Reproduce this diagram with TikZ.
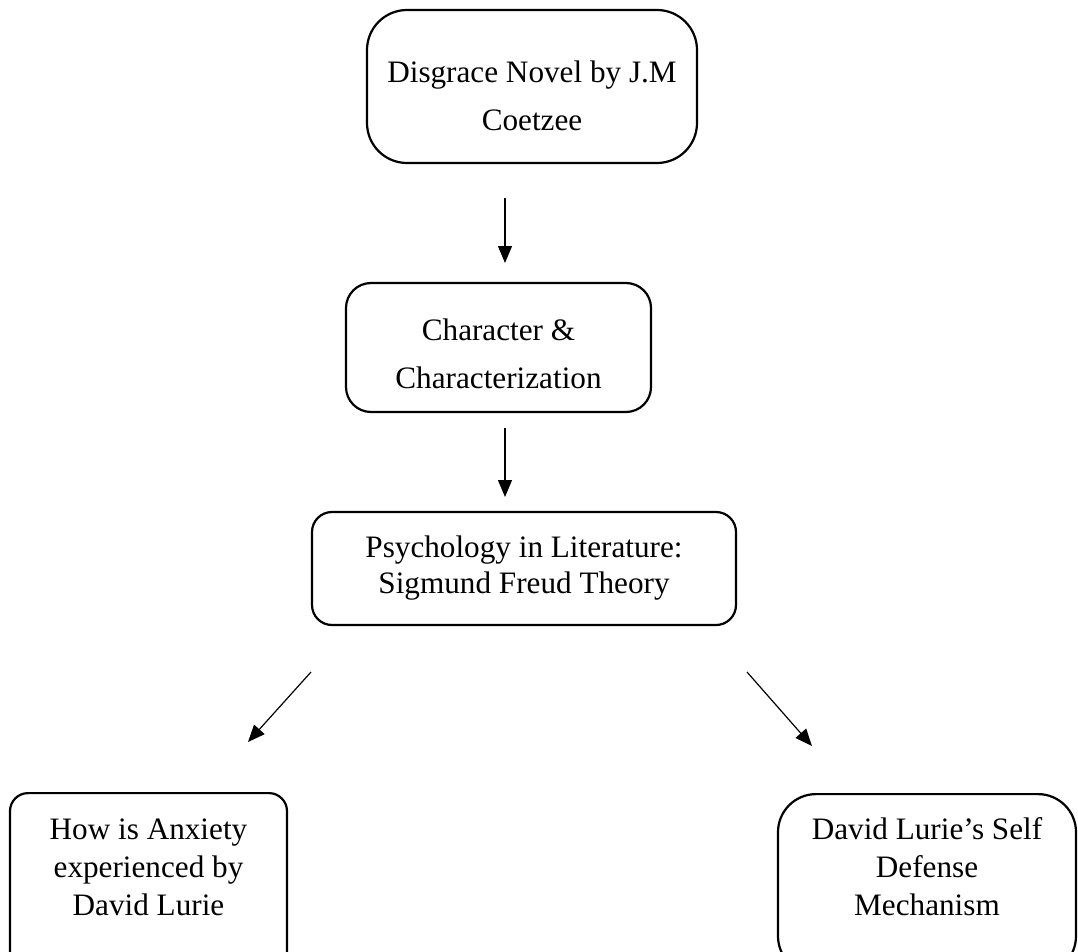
\documentclass[tikz,border=0pt]{standalone}
\usepackage{fontspec}
\setmainfont{Liberation Serif}
\usetikzlibrary{arrows.meta}
\begin{document}
\begin{tikzpicture}[x=1pt,y=-1pt,
  box/.style={draw,line width=2.2pt,align=center,inner sep=0pt,font=\fontsize{31.2}{36}\selectfont},
  conn/.style={line width=1.2pt,-{Triangle[length=17pt,width=14pt]}}]
\useasboundingbox (0,0) rectangle (1078,952);
\clip (0,0) rectangle (1078,952);
\node[box,rounded corners=40pt,minimum width=330pt,minimum height=153pt] (n1) at (532,86.5) {};
\node[font=\fontsize{31.2}{48}\selectfont,align=center] (t1) at (532,96) {Disgrace Novel by J.M\\Coetzee};
\node[box,rounded corners=25pt,minimum width=305pt,minimum height=129pt] (n2) at (498.5,347.5) {};
\node[font=\fontsize{31.2}{48}\selectfont,align=center] (t2) at (498.5,354) {Character \&\\Characterization};
\node[box,rounded corners=20pt,minimum width=424pt,minimum height=113pt] (n3) at (524,568.5) {Psychology in Literature:\\Sigmund Freud Theory};
\node[box,rounded corners=18pt,minimum width=277pt,minimum height=180pt,anchor=north] (n4) at (148.5,792) {};
\node[font=\fontsize{31.2}{38}\selectfont,align=center] (t4) at (148.5,867) {How is Anxiety\\experienced by\\David Lurie};
\node[box,rounded corners=38pt,minimum width=298pt,minimum height=180pt,anchor=north] (n5) at (927,793) {};
\node[font=\fontsize{31.2}{38}\selectfont,align=center] (t5) at (927,867) {David Lurie’s Self\\Defense\\Mechanism};
\coordinate (a1s) at (505,198); \coordinate (a1e) at (505,263);
\coordinate (a2s) at (505,428); \coordinate (a2e) at (505,497);
\coordinate (a3s) at (311,672); \coordinate (a3e) at (248,742);
\coordinate (a4s) at (747,672); \coordinate (a4e) at (812,746);
\draw[conn] (a1s) -- (a1e);
\draw[conn] (a2s) -- (a2e);
\draw[conn] (a3s) -- (a3e);
\draw[conn] (a4s) -- (a4e);
\end{tikzpicture}
\end{document}
